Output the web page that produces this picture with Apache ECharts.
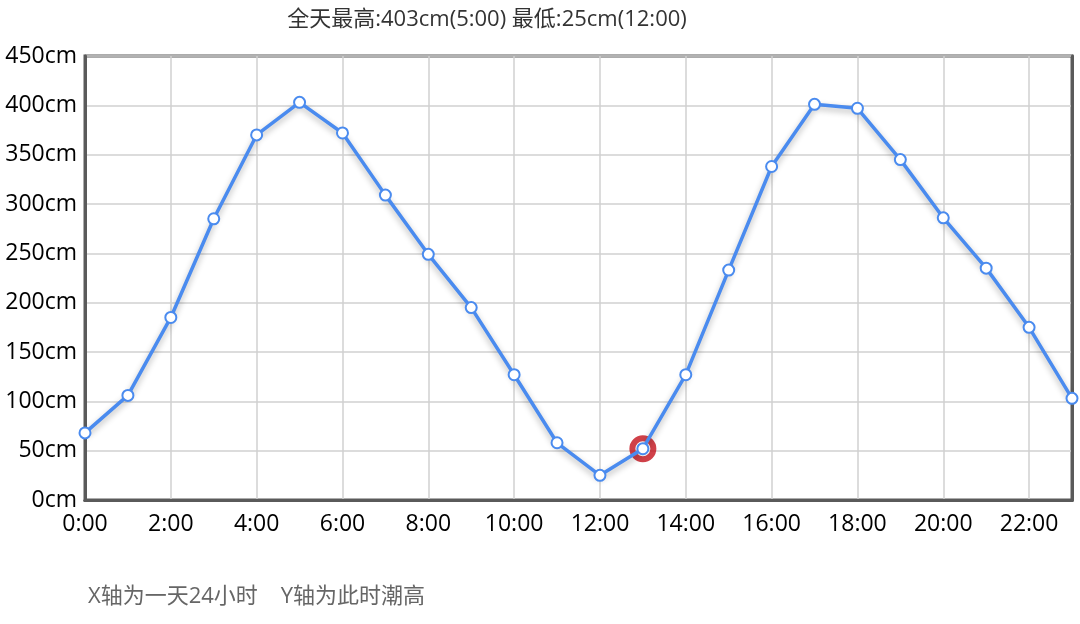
<!DOCTYPE html>
<html><head><meta charset="utf-8">
<script src="https://cdn.jsdelivr.net/npm/echarts@6/dist/echarts.min.js"></script>
<style>html,body{margin:0;padding:0;background:#fff}#c{width:1080px;height:624px}</style>
</head><body><div id="c"></div>
<script>
var hours = ['0:00','1:00','2:00','3:00','4:00','5:00','6:00','7:00','8:00','9:00','10:00','11:00','12:00','13:00','14:00','15:00','16:00','17:00','18:00','19:00','20:00','21:00','22:00','23:00'];
var tide = [68,106,185,285,370,403,372,309,249,195,127,58,25,52,127,233,338,401,397,345,286,235,175,103];
var currentHour = '13:00';
var currentTide = 52;
var titleText = '全天最高:403cm(5:00) 最低:25cm(12:00)';
var noteText = 'X轴为一天24小时    Y轴为此时潮高';

var font = '"Open Sans", "Noto Sans CJK SC", sans-serif';
var frame = {color: '#5a5a5a', width: 3};
var chart = echarts.init(document.getElementById('c'));
chart.setOption({
  animation: false,
  title: {
    text: titleText, left: 482, textAlign: 'center', top: 4,
    textStyle: {fontFamily: font, fontSize: 22, fontWeight: 'normal', color: '#333'}
  },
  graphic: [{
    type: 'text', left: 88, top: 586,
    style: {text: noteText, font: '22px ' + font, fill: '#666'}
  }],
  grid: {left: 85, right: 8, top: 56, bottom: 124, show: true, borderColor: '#5a5a5a', borderWidth: 3},
  xAxis: [{
    type: 'category', data: hours, boundaryGap: false,
    axisLine: {lineStyle: frame},
    axisTick: {show: false},
    axisLabel: {interval: 1, color: '#000', fontSize: 23, fontFamily: font, margin: 13},
    splitLine: {show: true, interval: 1, lineStyle: {color: '#d0d0d0', width: 1.5}}
  }, {
    type: 'category', data: hours, boundaryGap: false, position: 'top',
    axisLine: {show: true, lineStyle: frame},
    axisTick: {show: false}, axisLabel: {show: false}, splitLine: {show: false}
  }],
  yAxis: [{
    type: 'value', min: 0, max: 450, interval: 50,
    axisLine: {show: true, lineStyle: frame},
    axisTick: {show: false},
    axisLabel: {formatter: '{value}cm', color: '#000', fontSize: 23, fontFamily: font, margin: 8},
    splitLine: {lineStyle: {color: '#d0d0d0', width: 1.5}}
  }, {
    type: 'value', min: 0, max: 450, interval: 50, position: 'right',
    axisLine: {show: true, lineStyle: frame},
    axisTick: {show: false}, axisLabel: {show: false}, splitLine: {show: false}
  }],
  series: [{
    type: 'scatter', z: 1,
    data: [[currentHour, currentTide]],
    symbol: 'circle', symbolSize: 21,
    itemStyle: {color: 'rgba(0,0,0,0)', borderColor: '#c4121b', borderWidth: 6}
  }, {
    type: 'line', z: 3, data: tide,
    symbol: 'emptyCircle', symbolSize: 11,
    lineStyle: {color: '#4a8bef', width: 3.5, shadowColor: 'rgba(0,0,0,0.3)', shadowBlur: 6, shadowOffsetY: 3},
    itemStyle: {color: '#4a8bef', borderWidth: 3}
  }]
});
</script></body></html>
